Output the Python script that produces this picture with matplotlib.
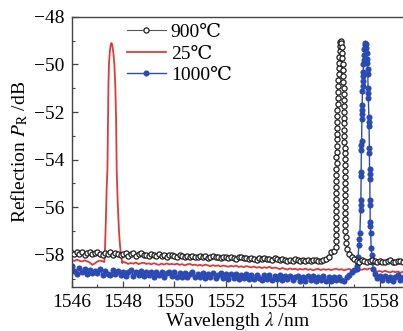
"""FBG reflection spectra at 25, 900 and 1000 C."""
import numpy as np
import matplotlib
matplotlib.use("Agg")
import matplotlib.pyplot as plt
from matplotlib.ticker import MultipleLocator

plt.rcParams["font.family"] = ["Liberation Serif", "STIXGeneral", "DejaVu Serif"]
plt.rcParams["mathtext.fontset"] = "stix"

# --- DATA (dB) ---
WL0, DWL = 1546.0, 0.1          # baseline sampling grid start / step (nm)

BLACK_DB = [  # 900 C baseline, 1546.0 ... 1558.9
    -57.92, -57.98, -57.88, -57.95, -57.90, -58.00, -57.93, -57.87, -57.97, -57.94,
    -57.90, -57.96, -58.02, -57.91, -57.95, -57.89, -57.99, -57.93, -57.97, -58.01,
    -57.95, -57.92, -58.03, -57.97, -57.93, -58.05, -57.98, -57.94, -58.02, -57.99,
    -58.03, -57.96, -58.01, -58.06, -57.98, -58.04, -58.00, -58.07, -58.02, -57.99,
    -58.05, -58.08, -58.02, -58.06, -58.10, -58.04, -58.09, -58.03, -58.07, -58.11,
    -58.06, -58.10, -58.04, -58.12, -58.08, -58.05, -58.11, -58.09, -58.13, -58.07,
    -58.10, -58.14, -58.08, -58.12, -58.16, -58.11, -58.09, -58.15, -58.13, -58.18,
    -58.12, -58.16, -58.20, -58.14, -58.18, -58.13, -58.19, -58.17, -58.21, -58.15,
    -58.19, -58.23, -58.17, -58.21, -58.25, -58.20, -58.24, -58.18, -58.22, -58.26,
    -58.21, -58.25, -58.22, -58.27, -58.23, -58.20, -58.24, -58.26, -58.22, -58.18,
    -58.10, -57.90, -57.82, -57.90, -58.00, -58.00, -58.00, -58.00, -57.98, -58.08,
    -58.18, -58.24, -58.28, -58.22, -58.26, -58.30, -58.25, -58.21, -58.27, -58.29,
    -58.24, -58.28, -58.31, -58.26, -58.23, -58.29, -58.32, -58.27, -58.25, -58.30,
]
RED_DB = [  # 25 C baseline
    -58.22, -58.26, -58.20, -58.25, -58.28, -58.23, -58.27, -58.32, -58.42, -58.36,
    -58.28, -58.24, -58.27, -58.30, -58.30, -58.30, -58.30, -58.30, -58.30, -58.30,
    -58.28, -58.33, -58.38, -58.34, -58.37, -58.32, -58.39, -58.35, -58.33, -58.38,
    -58.36, -58.40, -58.35, -58.39, -58.42, -58.37, -58.41, -58.36, -58.40, -58.38,
    -58.41, -58.37, -58.42, -58.39, -58.44, -58.40, -58.38, -58.43, -58.41, -58.45,
    -58.42, -58.46, -58.41, -58.44, -58.48, -58.43, -58.47, -58.44, -58.49, -58.45,
    -58.47, -58.50, -58.46, -58.49, -58.45, -58.51, -58.48, -58.52, -58.47, -58.50,
    -58.53, -58.49, -58.54, -58.51, -58.56, -58.52, -58.55, -58.50, -58.57, -58.53,
    -58.56, -58.60, -58.55, -58.59, -58.62, -58.57, -58.61, -58.58, -58.63, -58.59,
    -58.62, -58.58, -58.63, -58.60, -58.65, -58.61, -58.59, -58.64, -58.60, -58.63,
    -58.60, -58.64, -58.61, -58.58, -58.63, -58.60, -58.65, -58.62, -58.59, -58.64,
    -58.61, -58.66, -58.60, -58.63, -58.58, -58.62, -58.57, -58.60, -58.66, -58.70,
    -58.68, -58.72, -58.67, -58.71, -58.74, -58.69, -58.73, -58.70, -58.75, -58.71,
]
BLUE_DB = [  # 1000 C baseline
    -58.45, -58.66, -58.82, -58.55, -58.74, -58.60, -58.80, -58.62, -58.78, -58.66,
    -58.76, -58.60, -58.84, -58.66, -58.79, -58.86, -58.64, -58.80, -58.68, -58.85,
    -58.70, -58.88, -58.72, -58.65, -58.87, -58.71, -58.84, -58.69, -58.90, -58.74,
    -58.86, -58.70, -58.91, -58.74, -58.85, -58.72, -58.92, -58.76, -58.70, -58.88,
    -58.74, -58.91, -58.77, -58.94, -58.76, -58.92, -58.79, -58.72, -58.95, -58.80,
    -58.92, -58.76, -58.96, -58.80, -58.93, -58.77, -58.97, -58.83, -58.78, -58.98,
    -58.82, -59.00, -58.81, -58.96, -58.80, -59.01, -58.84, -58.97, -58.82, -59.02,
    -58.85, -59.03, -58.84, -58.98, -59.05, -58.86, -59.00, -58.84, -59.04, -58.88,
    -59.02, -58.86, -59.06, -58.90, -59.03, -58.87, -59.07, -58.91, -58.88, -59.08,
    -58.92, -59.09, -58.90, -59.05, -58.89, -59.10, -58.93, -59.06, -58.90, -59.10,
    -58.94, -59.09, -58.92, -59.06, -58.91, -59.05, -59.08, -58.93, -58.85, -58.72,
    -58.62, -58.60, -58.60, -58.60, -58.60, -58.60, -58.60, -58.60, -58.82, -58.96,
    -58.90, -59.04, -58.88, -59.06, -58.92, -59.08, -58.94, -58.86, -59.05, -58.92,
]

RED_PEAK_WL = [1547.27, 1547.30, 1547.33, 1547.36, 1547.39, 1547.41, 1547.43, 1547.45,
               1547.48, 1547.52, 1547.55, 1547.58, 1547.62, 1547.66, 1547.70, 1547.73,
               1547.75, 1547.79, 1547.84, 1547.88, 1547.93, 1547.97]
RED_PEAK_DB = [-58.30, -57.60, -56.50, -55.20, -54.40, -52.50, -50.80, -50.00,
               -49.50, -49.15, -49.10, -49.20, -49.50, -50.00, -51.00, -52.50,
               -54.40, -55.80, -57.00, -57.60, -58.10, -58.35]

BLACK_PEAK_WL = [
    1556.28, 1556.28, 1556.29, 1556.29, 1556.29, 1556.30, 1556.30, 1556.30, 1556.30, 1556.30,
    1556.31, 1556.31, 1556.31, 1556.31, 1556.32, 1556.31, 1556.32, 1556.32, 1556.32, 1556.33,
    1556.33, 1556.33, 1556.34, 1556.34, 1556.35, 1556.35, 1556.36, 1556.37, 1556.38, 1556.39,
    1556.40, 1556.41, 1556.42, 1556.43, 1556.44, 1556.46,
    1556.48, 1556.50, 1556.51, 1556.53, 1556.54, 1556.55, 1556.56, 1556.57, 1556.58, 1556.59,
    1556.59, 1556.60, 1556.60, 1556.61, 1556.61, 1556.61, 1556.62, 1556.62, 1556.62, 1556.63,
    1556.63, 1556.63, 1556.63, 1556.64, 1556.64, 1556.64, 1556.64, 1556.64, 1556.65, 1556.65,
    1556.65, 1556.65, 1556.66, 1556.66, 1556.67, 1556.69, 1556.72]
BLACK_PEAK_DB = [
    -57.65, -57.40, -57.16, -56.90, -56.66, -56.41, -56.15, -55.91, -55.66, -55.40,
    -55.16, -54.91, -54.65, -54.41, -54.16, -53.90, -53.66, -53.41, -53.15, -52.91,
    -52.66, -52.40, -52.16, -51.91, -51.65, -51.41, -51.16, -50.90, -50.66, -50.41,
    -50.16, -49.92, -49.68, -49.45, -49.24, -49.06,
    -49.00, -49.10, -49.28, -49.50, -49.74, -49.98, -50.23, -50.48, -50.73, -50.98,
    -51.23, -51.48, -51.73, -51.98, -52.23, -52.48, -52.74, -52.99, -53.24, -53.49,
    -53.74, -53.99, -54.24, -54.49, -54.74, -54.99, -55.24, -55.50, -55.75, -56.00,
    -56.25, -56.50, -56.75, -57.00, -57.25, -57.50, -57.75]

BLUE_PEAK_WL = [
    1557.12, 1557.15, 1557.18, 1557.20, 1557.22, 1557.25, 1557.25, 1557.26, 1557.27, 1557.27,
    1557.28, 1557.28, 1557.29, 1557.30, 1557.30, 1557.31, 1557.31, 1557.32, 1557.33, 1557.33,
    1557.34, 1557.35, 1557.36, 1557.37, 1557.38, 1557.40, 1557.41, 1557.43,
    1557.45, 1557.47, 1557.48, 1557.50, 1557.51, 1557.52, 1557.53, 1557.54, 1557.55, 1557.55,
    1557.57, 1557.57, 1557.58, 1557.59, 1557.59, 1557.60, 1557.60, 1557.61, 1557.61, 1557.62,
    1557.62, 1557.63, 1557.64, 1557.66, 1557.68, 1557.71, 1557.74]
BLUE_PEAK_DB = [
    -58.45, -58.10, -57.60, -57.35, -57.10, -56.10, -55.90, -55.70, -54.70, -54.50,
    -53.60, -53.40, -53.20, -52.30, -52.10, -51.90, -51.70, -51.10, -50.90, -50.70,
    -50.50, -50.30, -50.00, -49.80, -49.60, -49.35, -49.20, -49.10,
    -49.15, -49.30, -49.50, -49.75, -49.95, -50.20, -50.40, -51.00, -51.20, -51.40,
    -52.20, -52.40, -52.60, -53.50, -53.70, -54.40, -54.60, -54.80, -55.70, -55.90,
    -56.60, -56.80, -57.10, -57.70, -58.00, -58.30, -58.60]

LABELS = ["900℃", "25℃", "1000℃"]
XTICKS = [1546, 1548, 1550, 1552, 1554, 1556, 1558]

# --- STYLE ---
C_BLACK, C_RED, C_BLUE = "#555555", "#dd3b3b", "#2b4bb4"
FS = 14


def spectrum(base_db, peak_wl, peak_db):
    """Baseline on the regular grid with the peak segment spliced in."""
    base_db = np.asarray(base_db)
    wl = WL0 + DWL * np.arange(len(base_db))
    keep = (wl < peak_wl[0]) | (wl > peak_wl[-1])
    x = np.concatenate([wl[keep], peak_wl])
    y = np.concatenate([base_db[keep], peak_db])
    order = np.argsort(x, kind="stable")
    return x[order], y[order]


def main():
    fig = plt.figure(figsize=(4.03, 3.31), dpi=100)
    ax = fig.add_axes([0.178, 0.133, 0.822, 0.816])

    xb, yb = spectrum(BLACK_DB, BLACK_PEAK_WL, BLACK_PEAK_DB)
    xr, yr = spectrum(RED_DB, RED_PEAK_WL, RED_PEAK_DB)
    xu, yu = spectrum(BLUE_DB, BLUE_PEAK_WL, BLUE_PEAK_DB)

    ax.plot(xb, yb, "-o", color=C_BLACK, lw=0.8, ms=3.7, mfc="white",
            mec="#1e1e1e", mew=0.9, label=LABELS[0], zorder=3)
    ax.plot(xr, yr, "-", color=C_RED, lw=1.3, label=LABELS[1], zorder=2)
    ax.plot(xu, yu, "-o", color=C_BLUE, lw=1.0, ms=4.4, mfc=C_BLUE,
            mec=C_BLUE, mew=0.0, label=LABELS[2], zorder=2.5)

    ax.set_xlim(1546, 1558.9)
    ax.set_ylim(-59.35, -48)
    ax.set_xticks(XTICKS)
    ax.xaxis.set_minor_locator(MultipleLocator(1))
    ax.yaxis.set_major_locator(MultipleLocator(2))
    ax.yaxis.set_minor_locator(MultipleLocator(1))
    ax.tick_params(which="both", direction="in", labelsize=FS, color="#444444")
    ax.tick_params(which="major", length=4.5, width=0.9, pad=5)
    ax.tick_params(which="minor", length=2.5, width=0.8)
    for s in ("left", "bottom", "top"):
        ax.spines[s].set_color("#444444")
        ax.spines[s].set_linewidth(1.0)
    ax.spines["right"].set_visible(False)

    ax.set_xlabel(r"Wavelength $\lambda$ /nm", fontsize=FS, labelpad=-1)
    ax.set_ylabel(r"Reflection $P_{\rm R}$ /dB", fontsize=FS, labelpad=3)

    ax.legend(loc="upper left", bbox_to_anchor=(0.155, 0.99), frameon=False,
              fontsize=FS, numpoints=1, handlelength=2.0, handletextpad=0.25,
              labelspacing=0.2, borderaxespad=0.0, borderpad=0.2)

    fig.savefig("out.png", dpi=100)


if __name__ == "__main__":
    main()
